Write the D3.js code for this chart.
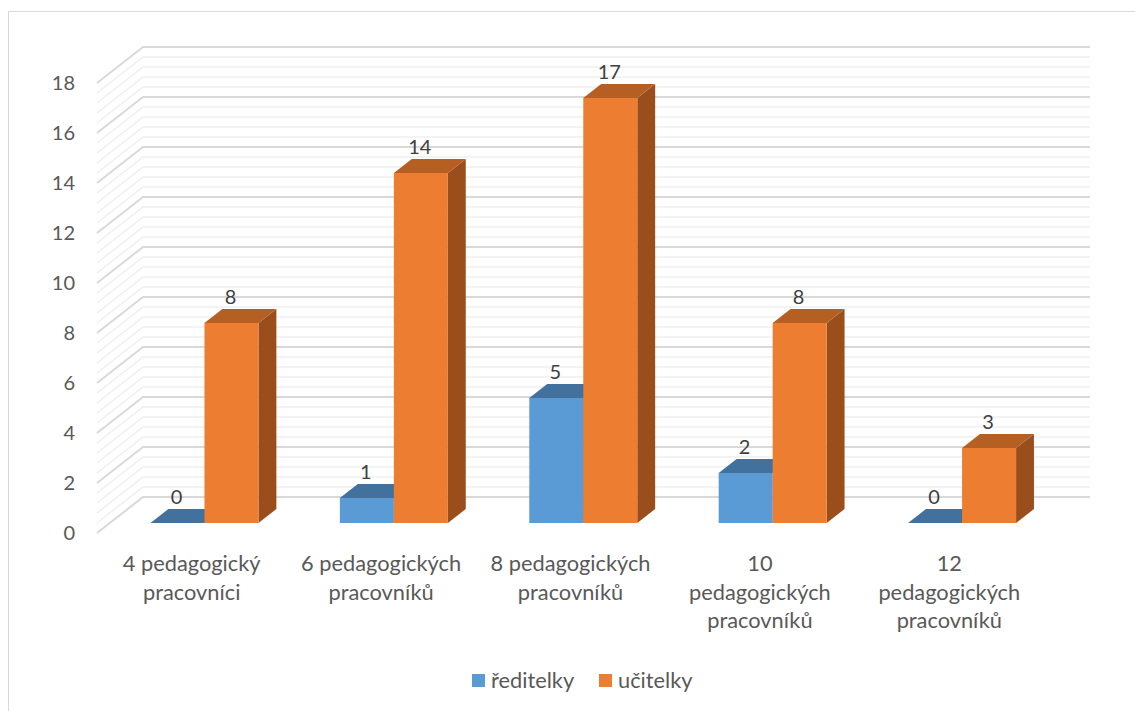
<!DOCTYPE html>
<html><head><meta charset="utf-8">
<script src="https://cdn.jsdelivr.net/npm/d3@7"></script>
<style>
html,body{margin:0;padding:0;background:#fff;}
svg{display:block;}
text{font-family:Lato,"Noto Sans",sans-serif;}
</style></head>
<body>
<script>
const categories = ["4 pedagogický pracovníci","6 pedagogických pracovníků","8 pedagogických pracovníků","10 pedagogických pracovníků","12 pedagogických pracovníků"];
const categoryLines = [["4 pedagogický","pracovníci"],["6 pedagogických","pracovníků"],["8 pedagogických","pracovníků"],["10","pedagogických","pracovníků"],["12","pedagogických","pracovníků"]];
const seriesNames = ["ředitelky","učitelky"];
const reditelky = [0,1,5,2,0];
const ucitelky = [8,14,17,8,3];
const yTicks = [0,2,4,6,8,10,12,14,16,18];
const minorStep = 0.4;

const W = 1135, H = 711;
const svg = d3.select("body").append("svg").attr("width",W).attr("height",H);

// chart border
svg.append("rect").attr("x",8.5).attr("y",11.5).attr("width",1140).attr("height",710)
  .attr("fill","#fff").attr("stroke","#d9d9d9").attr("stroke-width",1);

// 3D oblique projection
const DX = 46, DY = -36;           // full floor depth offset
const x = d3.scaleBand().domain(d3.range(categories.length)).range([97,1044]);
const y = d3.scaleLinear().domain([0,18]).range([533,83]);
const proj = (px, val, z) => [px + z*DX, y(val) + z*DY];

// gridlines (side wall + back wall)
const grid = svg.append("g");
const nMinor = Math.round(18/minorStep);
for (let i=0;i<=nMinor;i++){
  const v = i*minorStep;
  const major = yTicks.some(t=>Math.abs(t-v)<1e-6);
  const p0 = proj(97, v, 0), p1 = proj(97, v, 1), p2 = proj(1044, v, 1);
  grid.append("path")
    .attr("d", d3.line()([p0,p1,p2]))
    .attr("fill","none")
    .attr("stroke", major ? "#d9d9d9" : "#efefef")
    .attr("stroke-width", major ? 2 : 1.5);
}

// bars
const bw = 54, zf = 10/36, zb = 24/36;
const colors = [
  {front:"#5b9bd5", top:"#41719c", side:"#3c6a94"},
  {front:"#ed7d31", top:"#b65f23", side:"#9a4e1c"}
];
const series = [reditelky, ucitelky];
const bars = svg.append("g");
const labels = svg.append("g");
categories.forEach((c,i)=>{
  const cx = x(i) + x.bandwidth()/2 + 13;
  series.forEach((vals,s)=>{
    const v = vals[i];
    const x0 = cx - 13 - bw + s*bw, x1 = x0 + bw;
    const col = colors[s];
    const fl = proj(x0,0,zf), fr = proj(x1,0,zf), tl = proj(x0,v,zf), tr = proj(x1,v,zf);
    const btl = proj(x0,v,zb), btr = proj(x1,v,zb), bbr = proj(x1,0,zb);
    bars.append("path").attr("d", d3.line()([fr,tr,btr,bbr])+"Z").attr("fill",col.side);
    bars.append("path").attr("d", d3.line()([tl,tr,btr,btl])+"Z").attr("fill",col.top);
    if (v>0) bars.append("path").attr("d", d3.line()([fl,fr,tr,tl])+"Z").attr("fill",col.front);
    labels.append("text")
      .attr("x", fl[0] + bw/2 - 1)
      .attr("y", btl[1] - 5)
      .attr("text-anchor","middle")
      .attr("font-size",20)
      .attr("fill","#404040")
      .text(v);
  });
});

// y-axis labels
svg.append("g").selectAll("text").data(yTicks).join("text")
  .attr("x",75).attr("y",d=>y(d)).attr("dy","0.35em")
  .attr("text-anchor","end").attr("font-size",20).attr("fill","#595959")
  .text(d=>d);

// category labels
const cat = svg.append("g");
categoryLines.forEach((lines,i)=>{
  const cx = x(i) + x.bandwidth()/2;
  const t = cat.append("text").attr("text-anchor","middle").attr("font-size",21.8).attr("fill","#595959");
  lines.forEach((ln,k)=>{
    t.append("tspan").attr("x",cx).attr("y",571 + k*28.5).text(ln);
  });
});

// legend
const leg = svg.append("g");
const legItems = [{name:seriesNames[0],x:472,col:colors[0].front},{name:seriesNames[1],x:599,col:colors[1].front}];
legItems.forEach(d=>{
  leg.append("rect").attr("x",d.x).attr("y",674).attr("width",13).attr("height",13).attr("fill",d.col);
  leg.append("text").attr("x",d.x+19).attr("y",688).attr("font-size",21.8).attr("fill","#595959").text(d.name);
});
</script>
</body></html>
